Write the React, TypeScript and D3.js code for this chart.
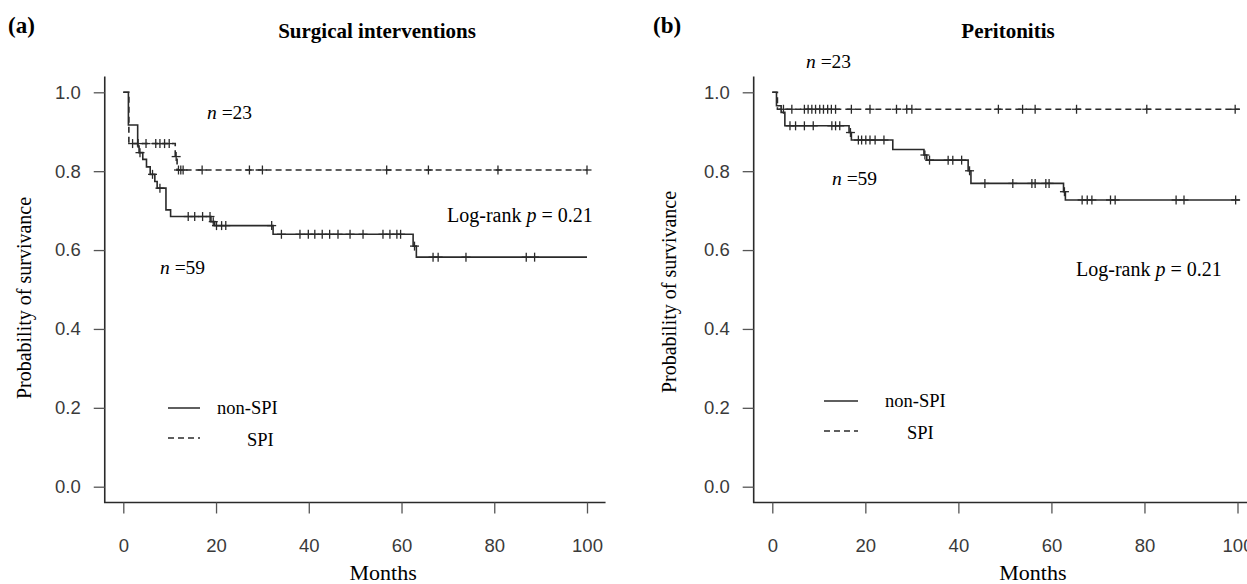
import React, { useEffect, useRef } from "react";
import * as d3 from "d3";

// axis ticks
const monthTicks = [0, 20, 40, 60, 80, 100];
const survTicks = [0, 0.2, 0.4, 0.6, 0.8, 1.0];

// (a) Surgical interventions, non-SPI (n = 59)
const aNonSpiTime = [0, 1.1, 3.1, 3.4, 4.2, 5.0, 5.8, 6.8, 7.3, 9.2, 10.2, 18.9, 19.7, 32.3, 62.5, 63.2];
const aNonSpiSurv = [1.0, 0.917, 0.864, 0.847, 0.83, 0.811, 0.792, 0.774, 0.757, 0.702, 0.685, 0.672, 0.662, 0.64, 0.61, 0.582];
const aNonSpiCens = [3.6, 6.3, 7.9, 14.0, 15.4, 17.1, 18.7, 19.4, 20.1, 21.2, 22.1, 32.0, 34.1, 38.1, 39.9, 41.3, 42.9, 44.5, 46.3, 48.9, 51.7, 56.0, 57.5, 59.0, 59.8, 62.8, 66.8, 67.9, 73.9, 86.9, 88.7];

// (a) Surgical interventions, SPI (n = 23)
const aSpiTime = [0, 1.2, 11.2, 11.6];
const aSpiSurv = [1.0, 0.87, 0.837, 0.803];
const aSpiCens = [2.0, 3.2, 4.9, 7.0, 7.9, 8.9, 9.9, 11.4, 11.9, 12.4, 12.9, 17.0, 27.2, 30.0, 56.8, 65.8, 80.8, 100];

// (b) Peritonitis, non-SPI (n = 59)
const bNonSpiTime = [0, 0.9, 1.9, 2.7, 16.5, 17.0, 25.9, 32.6, 33.2, 42.1, 42.7, 62.6, 63.0];
const bNonSpiSurv = [1.0, 0.966, 0.949, 0.915, 0.898, 0.879, 0.855, 0.841, 0.828, 0.801, 0.769, 0.748, 0.727];
const bNonSpiCens = [3.8, 5.0, 6.9, 8.8, 12.8, 13.6, 14.5, 16.8, 18.5, 19.2, 20.1, 21.0, 22.1, 24.0, 32.8, 33.8, 37.8, 38.8, 40.7, 42.4, 45.7, 51.7, 55.8, 56.5, 58.8, 59.5, 62.8, 66.6, 67.7, 68.7, 72.7, 73.7, 86.8, 88.5, 99.6];

// (b) Peritonitis, SPI (n = 23)
const bSpiTime = [0, 1.1];
const bSpiSurv = [1.0, 0.957];
const bSpiCens = [2.4, 4.2, 6.9, 7.7, 8.5, 9.3, 10.2, 11.0, 11.9, 12.7, 13.6, 17.0, 21.0, 26.7, 28.9, 30.0, 48.6, 53.8, 56.5, 65.4, 80.5, 99.5];

const INK = "#2a2a2a";
const SERIF = "'Liberation Serif', 'Times New Roman', serif";
const SANS = "'Liberation Sans', Arial, sans-serif";

function survAt(times: number[], surv: number[], t: number) {
  let v = surv[0];
  times.forEach((tt, i) => {
    if (tt <= t) v = surv[i];
  });
  return v;
}

function KMCurve({ x, y, times, surv, cens, end, dashed }: any) {
  const pts: [number, number][] = times.map((t: number, i: number) => [t, surv[i]]);
  pts.push([end, surv[surv.length - 1]]);
  const line = d3
    .line<[number, number]>()
    .x((d) => x(d[0]))
    .y((d) => y(d[1]))
    .curve(d3.curveStepAfter);
  return (
    <g>
      <path d={line(pts) || ""} fill="none" stroke={INK} strokeWidth={1.6} strokeDasharray={dashed ? "6,4" : undefined} />
      {cens.map((t: number, i: number) => {
        const cx = x(t);
        const cy = y(survAt(times, surv, t));
        return (
          <g key={i} stroke={INK} strokeWidth={1.3}>
            <line x1={cx} x2={cx} y1={cy - 4.5} y2={cy + 4.5} />
            <line x1={cx - 4.5} x2={cx + 4.5} y1={cy} y2={cy} />
          </g>
        );
      })}
    </g>
  );
}

function KMPanel(props: any) {
  const { x0, x1, letter, letterX, title, titleX, yLabelX, yLabelY, n23, n59, logrank, legend, nonSpi, spi } = props;
  const xRef = useRef<SVGGElement>(null);
  const yRef = useRef<SVGGElement>(null);
  const x = d3.scaleLinear().domain([0, 100]).range([x0, x1]);
  const y = d3.scaleLinear().domain([0, 1]).range([486.7, 92.3]);
  const left = x(-4);
  const right = x(104);
  const bottom = y(-0.04);
  const top = y(1.04);

  useEffect(() => {
    const gx = d3.select(xRef.current!);
    gx.selectAll("*").remove();
    gx.call(d3.axisBottom(x).tickValues(monthTicks).tickSize(11).tickPadding(25).tickFormat(d3.format("d")) as any);
    gx.select(".domain").remove();
    gx.attr("font-family", SANS).attr("font-size", 18.5);
    gx.selectAll(".tick line").attr("stroke", "#555").attr("stroke-width", 1.3);
    gx.selectAll(".tick text").attr("fill", "#3a3a3a");

    const gy = d3.select(yRef.current!);
    gy.selectAll("*").remove();
    gy.call(d3.axisLeft(y).tickValues(survTicks).tickSize(11).tickPadding(13).tickFormat(d3.format(".1f")) as any);
    gy.select(".domain").remove();
    gy.attr("font-family", SANS).attr("font-size", 18.5);
    gy.selectAll(".tick line").attr("stroke", "#555").attr("stroke-width", 1.3);
    gy.selectAll(".tick text").attr("fill", "#3a3a3a");
  }, []);

  return (
    <g>
      <text x={letterX} y={33} fontFamily={SERIF} fontWeight="bold" fontSize={23}>{letter}</text>
      <text x={titleX} y={38} textAnchor="middle" fontFamily={SERIF} fontWeight="bold" fontSize={21}>{title}</text>
      <path d={`M${left},${top}V${bottom}H${right}`} fill="none" stroke={INK} strokeWidth={1.6} />
      <g ref={xRef} transform={`translate(0,${bottom})`} />
      <g ref={yRef} transform={`translate(${left},0)`} />
      <KMCurve x={x} y={y} {...spi} dashed />
      <KMCurve x={x} y={y} {...nonSpi} />
      <text transform={`translate(${yLabelX},${yLabelY}) rotate(-90)`} textAnchor="middle" fontFamily={SERIF} fontSize={20}>
        Probability of survivance
      </text>
      <text x={x(50) + 28} y={580} textAnchor="middle" fontFamily={SERIF} fontSize={22}>Months</text>
      <text x={n23[0]} y={n23[1]} fontFamily={SERIF} fontSize={19.5}>
        <tspan fontStyle="italic">n</tspan> =23
      </text>
      <text x={n59[0]} y={n59[1]} fontFamily={SERIF} fontSize={19.5}>
        <tspan fontStyle="italic">n</tspan> =59
      </text>
      <text x={logrank[0]} y={logrank[1]} fontFamily={SERIF} fontSize={20}>
        Log-rank <tspan fontStyle="italic">p</tspan> = 0.21
      </text>
      <g fontFamily={SERIF} fontSize={18.5}>
        <line x1={legend.x} x2={legend.x + legend.w} y1={legend.y} y2={legend.y} stroke={INK} strokeWidth={1.5} />
        <text x={legend.tx1} y={legend.y + 6}>non-SPI</text>
        <line x1={legend.x} x2={legend.x + legend.w} y1={legend.y + 30} y2={legend.y + 30} stroke={INK} strokeWidth={1.5} strokeDasharray="6,4" />
        <text x={legend.tx2} y={legend.y + 38}>SPI</text>
      </g>
    </g>
  );
}

export default function App() {
  return (
    <svg width={1247} height={584} style={{ position: "absolute", left: 0, top: 0, background: "#fff" }}>
      <KMPanel
        x0={123.3}
        x1={587}
        letter="(a)"
        letterX={8}
        title="Surgical interventions"
        titleX={377}
        yLabelX={31}
        yLabelY={298}
        n23={[207, 119]}
        n59={[160, 274]}
        logrank={[447, 222]}
        legend={{ x: 168, w: 32, y: 408, tx1: 217, tx2: 247 }}
        nonSpi={{ times: aNonSpiTime, surv: aNonSpiSurv, cens: aNonSpiCens, end: 100 }}
        spi={{ times: aSpiTime, surv: aSpiSurv, cens: aSpiCens, end: 100 }}
      />
      <KMPanel
        x0={772.3}
        x1={1237.5}
        letter="(b)"
        letterX={653}
        title="Peritonitis"
        titleX={1008}
        yLabelX={676}
        yLabelY={292}
        n23={[806, 68]}
        n59={[832, 185]}
        logrank={[1076, 276]}
        legend={{ x: 824, w: 34, y: 401, tx1: 885, tx2: 907 }}
        nonSpi={{ times: bNonSpiTime, surv: bNonSpiSurv, cens: bNonSpiCens, end: 100.5 }}
        spi={{ times: bSpiTime, surv: bSpiSurv, cens: bSpiCens, end: 100.5 }}
      />
    </svg>
  );
}
